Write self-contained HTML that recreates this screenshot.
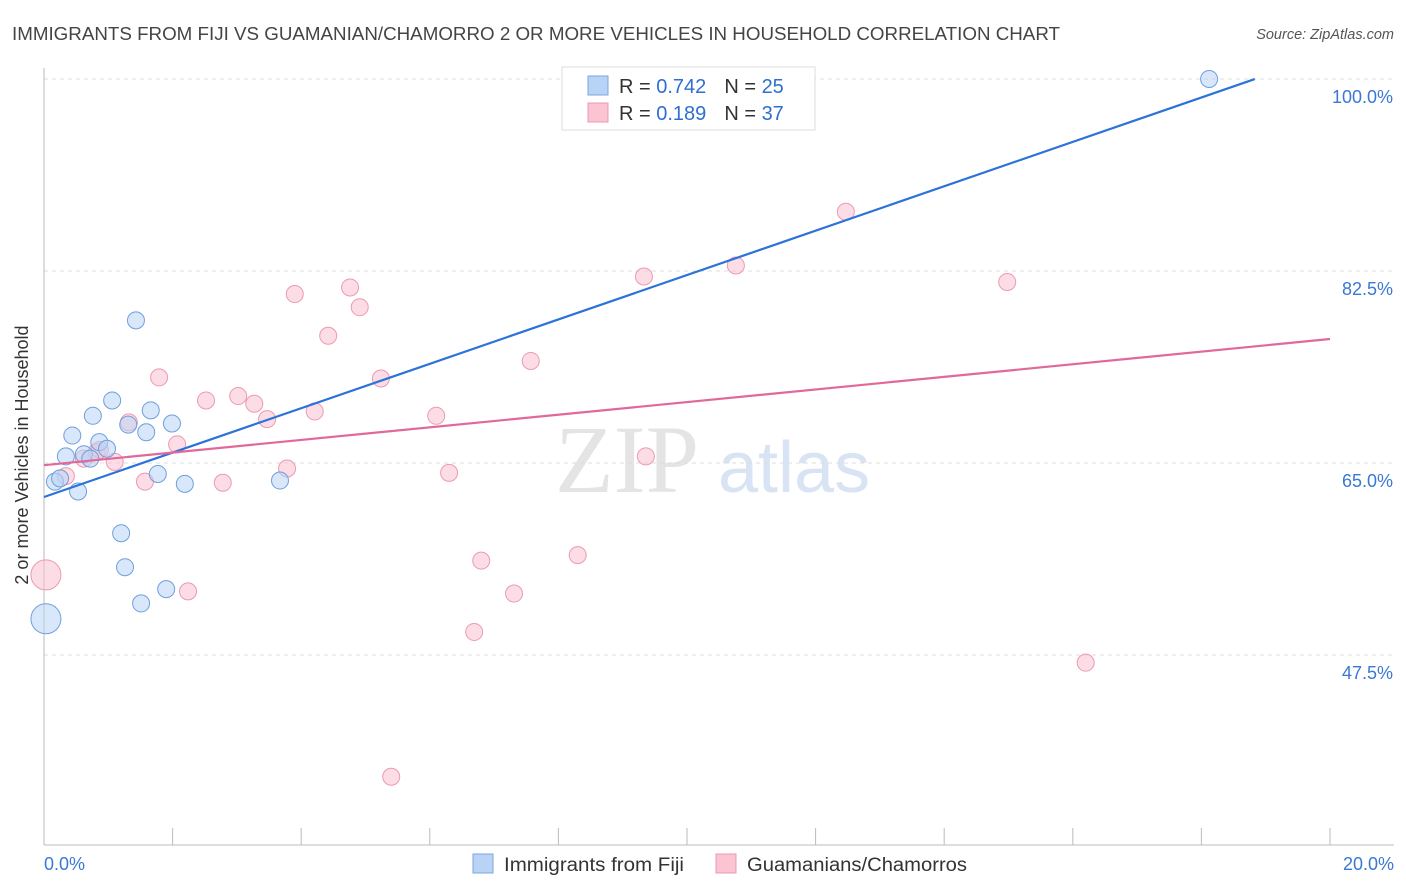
<!DOCTYPE html>
<html><head><meta charset="utf-8">
<style>
body{margin:0;background:#fff;font-family:"Liberation Sans",sans-serif;}
svg{display:block}
</style></head><body>
<svg id="chart" width="1406" height="892">
<text x="12" y="40" font-size="18" fill="#444" textLength="1048" lengthAdjust="spacingAndGlyphs">IMMIGRANTS FROM FIJI VS GUAMANIAN/CHAMORRO 2 OR MORE VEHICLES IN HOUSEHOLD CORRELATION CHART</text>
<text x="1394" y="39" font-size="14.5" fill="#555" font-style="italic" text-anchor="end">Source: ZipAtlas.com</text>
<text x="555" y="492" font-size="96" fill="#e4e4e4" font-family="Liberation Serif,serif">ZIP</text>
<text x="718" y="492" font-size="72" fill="#d8e4f3">atlas</text>
<text x="28" y="455" font-size="18" fill="#333" text-anchor="middle" transform="rotate(-90 28 455)">2 or more Vehicles in Household</text>
<g id="grid"></g><g id="marks"></g>
<g>
<rect x="562" y="67" width="253" height="63" fill="#fff" stroke="#ddd"/>
<rect x="588" y="76" width="20" height="19" fill="#b8d3f5" stroke="#7aa6e0"/>
<rect x="588" y="103" width="20" height="19" fill="#fac4d3" stroke="#ef98b2"/>
<text x="619" y="93" font-size="20" fill="#333">R = <tspan fill="#2f6fd0">0.742</tspan><tspan dx="18">N = </tspan><tspan fill="#2f6fd0">25</tspan></text>
<text x="619" y="120" font-size="20" fill="#333">R = <tspan fill="#2f6fd0"> 0.189</tspan><tspan dx="18">N = </tspan><tspan fill="#2f6fd0">37</tspan></text>
</g>
<g>
<rect x="473" y="854" width="20" height="19" fill="#b8d3f5" stroke="#7aa6e0"/>
<text x="504" y="871" font-size="19" fill="#333" textLength="180" lengthAdjust="spacingAndGlyphs">Immigrants from Fiji</text>
<rect x="716" y="854" width="20" height="19" fill="#fac4d3" stroke="#ef98b2"/>
<text x="747" y="871" font-size="19" fill="#333" textLength="220" lengthAdjust="spacingAndGlyphs">Guamanians/Chamorros</text>
</g>
</svg>
<script>
const yTicks=[100,82.5,65,47.5];
const yTickLabels=["100.0%","82.5%","65.0%","47.5%"];
const xTickLabels=["0.0%","20.0%"];
const fijiX=[0.03,0.17,0.25,0.34,0.44,0.53,0.62,0.72,0.76,0.86,0.98,1.06,1.20,1.26,1.31,1.43,1.51,1.59,1.66,1.77,1.90,1.99,2.19,3.67,18.12];
const fijiY=[50.8,63.3,63.6,65.6,67.5,62.4,65.8,65.4,69.3,66.9,66.3,70.7,58.6,55.5,68.5,78.0,52.2,67.8,69.8,64.0,53.5,68.6,63.1,63.4,100.0];
const guamX=[0.03,0.34,0.62,0.82,0.87,1.10,1.32,1.57,1.79,2.07,2.24,2.52,2.78,3.02,3.27,3.47,3.78,3.90,4.21,4.42,4.76,4.91,5.24,5.40,6.10,6.30,6.69,6.80,7.31,7.57,8.30,9.33,9.36,10.76,12.47,14.98,16.2];
const guamY=[54.8,63.8,65.4,66.0,66.2,65.1,68.7,63.3,72.8,66.7,53.3,70.7,63.2,71.1,70.4,69.0,64.5,80.4,69.7,76.6,81.0,79.2,72.7,36.4,69.3,64.1,49.6,56.1,53.1,74.3,56.6,82.0,65.6,83.0,87.9,81.5,46.8];
const fijiTrend=[61.9,2.023,18.83];
const guamTrend=[64.8,0.575,20];
const NS="http://www.w3.org/2000/svg";
const X=v=>44+v*64.3, Y=v=>79+(100-v)*10.971;
function el(t,a,p){const e=document.createElementNS(NS,t);for(const k in a)e.setAttribute(k,a[k]);p.appendChild(e);return e;}
const g=document.getElementById('grid'), m=document.getElementById('marks');
yTicks.forEach((t,i)=>{
 const l=el('line',{x1:44,x2:1394,y1:Y(t),y2:Y(t),stroke:'#ddd','stroke-dasharray':'4,4'},g);
 
 
 const tx=el('text',{x:1393,y:Y(t)+24,'font-size':18,fill:'#3a78d4','text-anchor':'end'},g);
 tx.textContent=yTickLabels[i];
 
 
});
const ax=el('line',{x1:44,x2:1394,y1:845,y2:845,stroke:'#bbb'},g);


const ay=el('line',{x1:44,x2:44,y1:68,y2:845,stroke:'#bbb'},g);


for(let i=0;i<=10;i++){const t=el('line',{x1:X(i*2),x2:X(i*2),y1:828,y2:845,stroke:'#bbb'},g);
 
 }
[[0,'start',44],[20,'end',1394]].forEach((d,i)=>{const t=el('text',{x:d[2],y:870,'font-size':18,fill:'#3a78d4','text-anchor':d[1]},g);t.textContent=xTickLabels[i];
 
 });
function pts(xs,ys,fill,stroke,name){xs.forEach((x,i)=>{const c=el('circle',{cx:X(x),cy:Y(ys[i]),r:x<0.1?15:8.5,fill:fill,'fill-opacity':0.55,stroke:stroke,'stroke-width':1},m);
 
 });}
pts(guamX,guamY,'#f9c0d0','#ec9ab3','guamanian-point');
pts(fijiX,fijiY,'#b8d3f5','#6f9fdc','fiji-point');
const l1=el('line',{x1:X(0),y1:Y(fijiTrend[0]),x2:X(fijiTrend[2]),y2:Y(fijiTrend[0]+fijiTrend[1]*fijiTrend[2]),stroke:'#2b73d8','stroke-width':2.2},m);


const l2=el('line',{x1:X(0),y1:Y(guamTrend[0]),x2:X(guamTrend[2]),y2:Y(guamTrend[0]+guamTrend[1]*guamTrend[2]),stroke:'#e0699a','stroke-width':2.2},m);


</script>
</body></html>
